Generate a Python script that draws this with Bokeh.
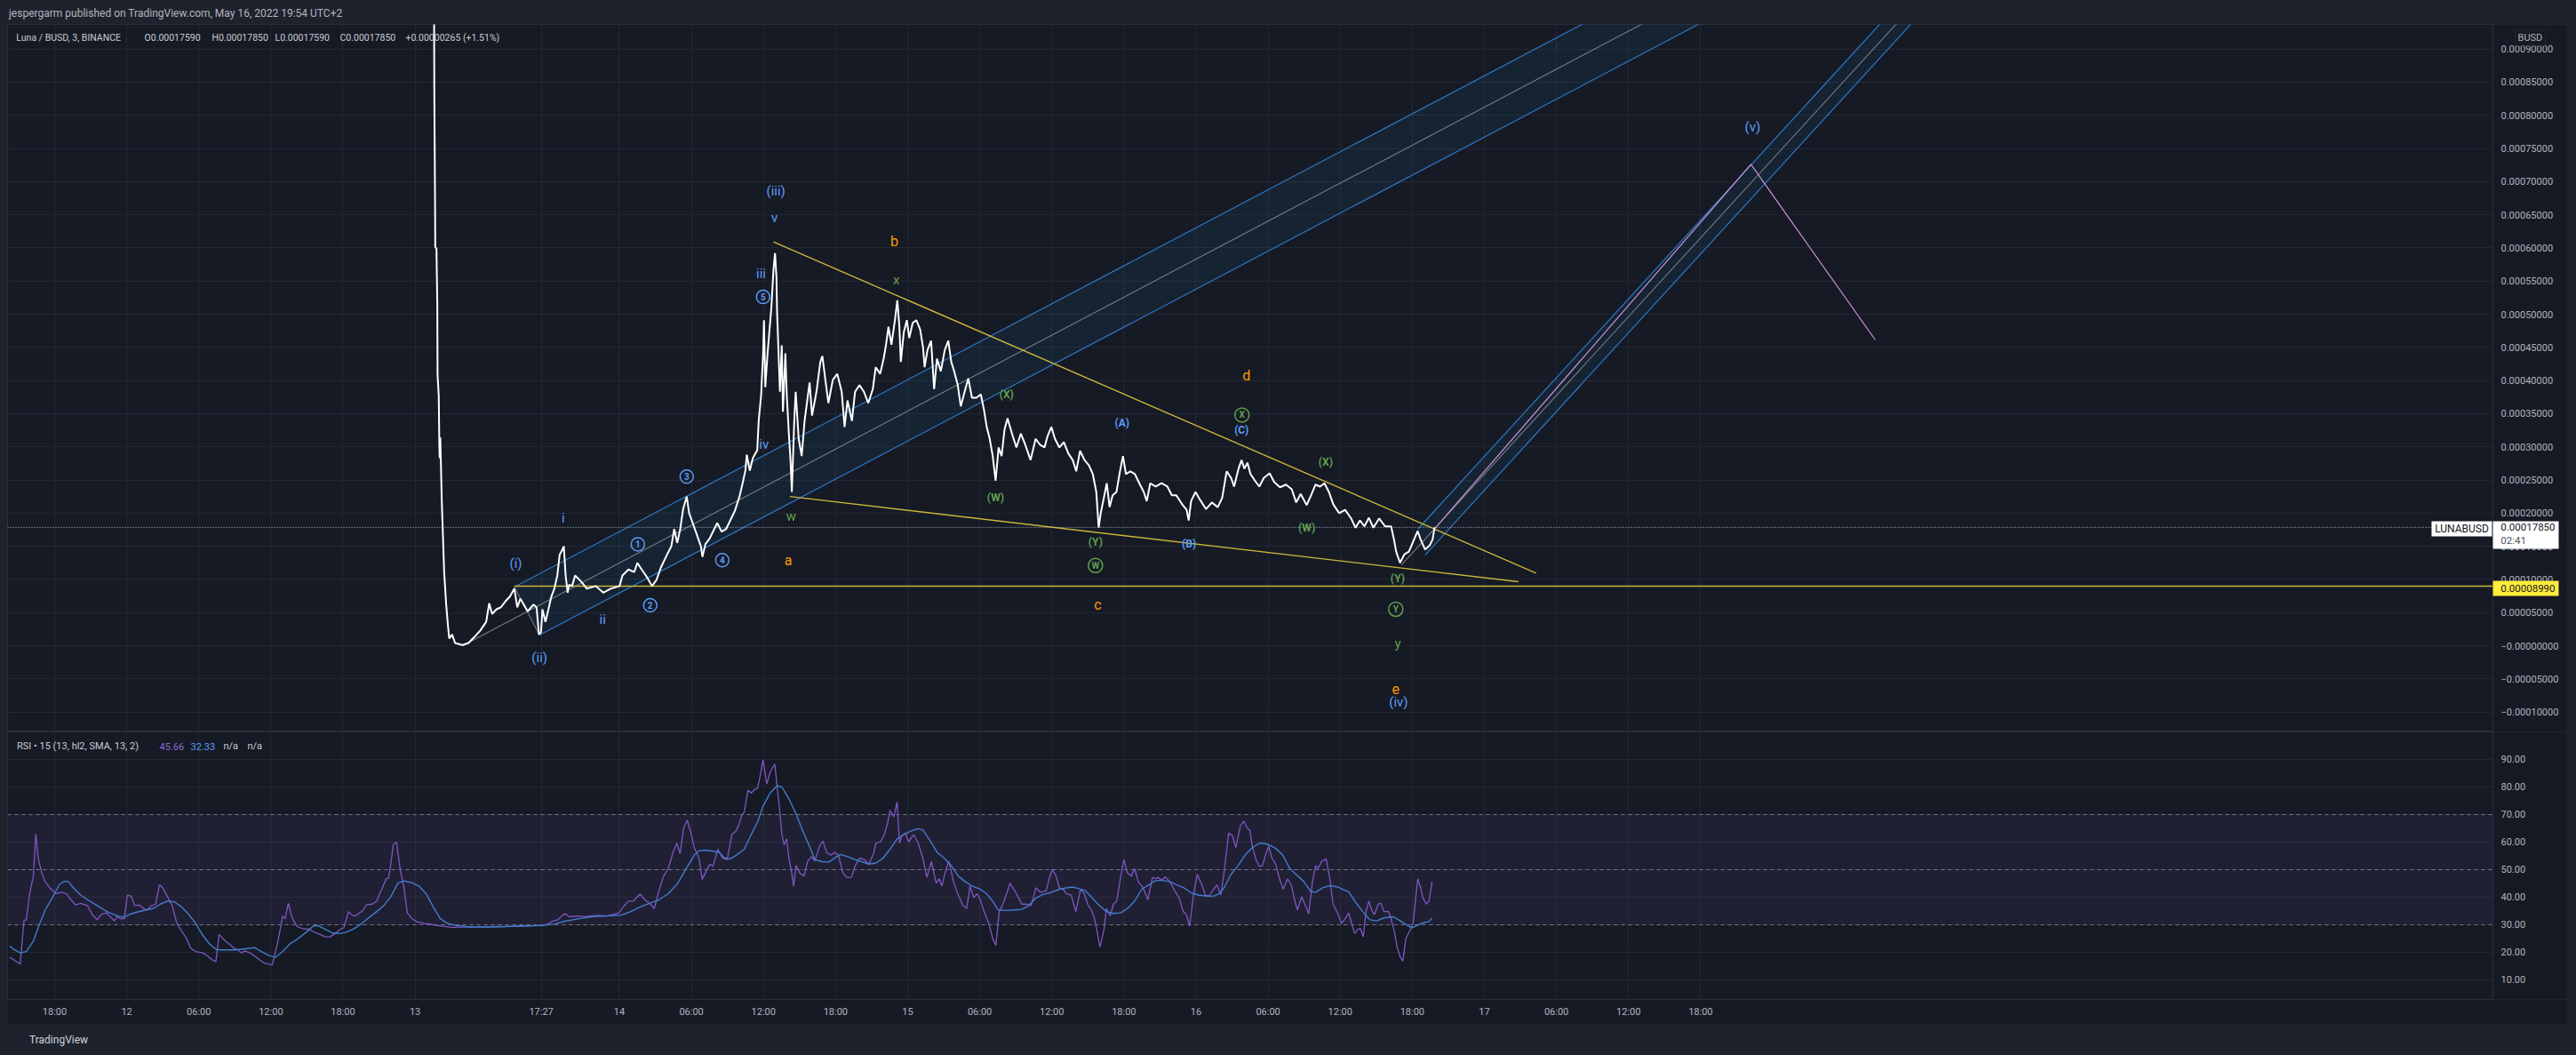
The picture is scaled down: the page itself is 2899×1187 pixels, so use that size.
from bokeh.plotting import figure
from bokeh.models import (ColumnDataSource, FixedTicker, BoxAnnotation, Label, Div,
                          Range1d, GlobalInlineStyleSheet)
from bokeh.layouts import column, row
from bokeh.core.properties import value
from bokeh.embed import file_html
from bokeh.resources import INLINE

# ---------------------------------------------------------------- data
# x unit: hours on TradingView's gap-less 3-minute bar axis (0 = May 11 18:00)
time_ticks = [0, 6, 12, 18, 24, 30, 40.5, 47, 53, 59, 65, 71, 77, 83, 89, 95, 101, 107, 113, 119, 125, 131, 137]
time_labels = ["18:00", "12", "06:00", "12:00", "18:00", "13", "17:27", "14", "06:00", "12:00", "18:00", "15",
               "06:00", "12:00", "18:00", "16", "06:00", "12:00", "18:00", "17", "06:00", "12:00", "18:00"]

price_ticks = [-10e-5, -5e-5, 0.0, 5e-5, 10e-5, 15e-5, 20e-5, 25e-5, 30e-5, 35e-5, 40e-5, 45e-5, 50e-5,
               55e-5, 60e-5, 65e-5, 70e-5, 75e-5, 80e-5, 85e-5, 90e-5]
price_tick_labels = ["\u22120.00010000", "\u22120.00005000", "\u22120.00000000", "0.00005000", "0.00010000",
                     "0.00015000", "0.00020000", "0.00025000", "0.00030000", "0.00035000", "0.00040000",
                     "0.00045000", "0.00050000", "0.00055000", "0.00060000", "0.00065000", "0.00070000",
                     "0.00075000", "0.00080000", "0.00085000", "0.00090000"]

rsi_ticks = [10, 20, 30, 40, 50, 60, 70, 80, 90]
rsi_tick_labels = ["10.00", "20.00", "30.00", "40.00", "50.00", "60.00", "70.00", "80.00", "90.00"]
rsi_levels = [70, 50, 30]

# LUNA/BUSD close (units of 1e-5 BUSD)
price_h = [31.56, 31.60, 31.66, 31.68, 31.78, 31.85, 31.87, 31.97, 32.02, 32.05,
           32.10, 32.22, 32.34, 32.42, 32.59, 32.71, 32.84, 33.08, 33.33, 33.95,
           34.44, 34.93, 35.43, 35.92, 36.17, 36.41, 36.78, 37.15, 37.52, 37.89,
           38.26, 38.51, 38.76, 39.37, 39.86, 40.11, 40.31, 40.48, 40.60, 40.85,
           41.10, 41.34, 41.59, 41.84, 42.03, 42.21, 42.38, 42.53, 42.70, 42.82,
           43.07, 43.32, 43.81, 44.30, 45.04, 45.66, 46.28, 47.02, 47.26, 47.76,
           48.24, 48.50, 48.86, 49.35, 49.72, 50.09, 50.46, 50.96, 51.33, 51.57,
           51.82, 52.07, 52.31, 52.61, 52.81, 53.05, 53.42, 53.79, 53.92, 54.16,
           54.53, 54.90, 55.15, 55.52, 55.89, 56.26, 56.63, 57.00, 57.25, 57.49,
           57.61, 57.86, 58.11, 58.48, 58.60, 58.80, 58.97, 59.04, 59.15, 59.34,
           59.54, 59.66, 59.83, 59.96, 60.08, 60.13, 60.28, 60.37, 60.52, 60.62,
           60.82, 60.94, 61.11, 61.26, 61.36, 61.56, 61.68, 61.93, 62.18, 62.42,
           62.67, 62.84, 63.04, 63.41, 63.73, 63.90, 64.15, 64.40, 64.77, 65.14,
           65.51, 65.75, 65.99, 66.36, 66.62, 66.99, 67.36, 67.72, 68.10, 68.34,
           68.71, 69.00, 69.20, 69.40, 69.65, 69.94, 70.14, 70.31, 70.43, 70.68,
           70.93, 71.13, 71.42, 71.72, 72.04, 72.28, 72.41, 72.65, 72.95, 73.20,
           73.44, 73.76, 74.09, 74.38, 74.63, 74.87, 75.17, 75.42, 75.74, 76.05,
           76.35, 76.72, 77.09, 77.34, 77.58, 77.83, 78.08, 78.32, 78.57, 78.82,
           79.06, 79.31, 79.68, 80.05, 80.42, 80.79, 81.23, 81.65, 82.02, 82.39,
           82.64, 82.96, 83.26, 83.63, 84.00, 84.37, 84.74, 85.03, 85.35, 85.72,
           86.09, 86.41, 86.70, 86.90, 87.07, 87.33, 87.57, 87.81, 88.06, 88.38,
           88.63, 88.92, 89.17, 89.54, 89.91, 90.28, 90.65, 90.90, 91.19, 91.64,
           92.13, 92.62, 92.99, 93.36, 93.86, 94.22, 94.39, 94.59, 94.96, 95.34,
           95.83, 96.32, 96.81, 97.18, 97.55, 97.92, 98.17, 98.54, 98.79, 99.03,
           99.28, 99.53, 99.90, 100.27, 100.64, 101.13, 101.50, 101.99, 102.49, 102.97,
           103.34, 103.71, 104.21, 104.58, 104.95, 105.32, 105.69, 106.06, 106.43, 106.92,
           107.41, 107.91, 108.28, 108.65, 109.02, 109.39, 109.76, 110.25, 110.74, 111.24,
           111.48, 111.66, 111.98, 112.35, 112.72, 113.03, 113.45, 113.70, 114.07, 114.44,
           114.69, 114.86]
price_e5 = [110.0, 83.9, 67.8, 60.1, 59.9, 51.6, 40.9, 37.7, 30.2, 28.3,
            31.4, 22.0, 15.5, 11.1, 6.2, 3.6, 1.1, 1.7, 0.4, 0.1,
            0.4, 1.3, 2.3, 3.6, 6.4, 4.8, 5.5, 5.8, 6.7, 7.4,
            8.6, 5.8, 7.1, 5.2, 6.2, 5.8, 1.7, 2.0, 5.5, 3.6,
            5.5, 7.4, 8.6, 10.6, 13.7, 14.3, 15.0, 10.6, 8.0, 9.2,
            9.0, 10.6, 9.7, 8.6, 9.0, 8.0, 8.6, 9.0, 10.6, 11.5,
            11.1, 12.5, 11.5, 10.2, 9.0, 9.9, 11.8, 13.7, 15.0, 17.6,
            15.5, 17.6, 20.6, 22.5, 20.0, 18.8, 16.9, 15.0, 13.4, 15.3,
            16.2, 17.6, 18.5, 17.2, 17.6, 19.0, 20.4, 22.5, 24.4, 26.4,
            28.8, 26.4, 28.3, 29.5, 33.9, 37.7, 44.1, 49.1, 39.0, 44.1,
            48.5, 51.1, 56.7, 59.2, 55.5, 50.4, 42.8, 38.3, 45.3, 35.3,
            44.1, 37.7, 32.0, 27.6, 23.2, 33.9, 38.3, 31.2, 28.6, 33.9,
            37.4, 39.7, 34.7, 38.3, 42.8, 43.7, 40.1, 36.6, 40.1, 41.0,
            38.3, 33.0, 37.0, 33.9, 38.3, 39.3, 38.3, 36.6, 38.7, 42.0,
            41.0, 43.3, 45.4, 48.1, 45.4, 49.1, 52.1, 48.1, 42.8, 47.3,
            49.1, 46.4, 48.7, 49.1, 47.7, 45.0, 42.0, 44.6, 46.0, 38.7,
            43.3, 41.4, 44.6, 46.0, 42.8, 41.4, 39.3, 36.1, 38.3, 40.3,
            37.4, 37.4, 37.9, 35.7, 33.0, 31.2, 28.6, 24.9, 29.9, 28.6,
            32.6, 34.3, 32.0, 29.9, 32.0, 30.3, 28.0, 31.2, 30.3, 29.9,
            31.6, 33.0, 31.2, 29.9, 30.7, 29.0, 28.0, 26.3, 29.4, 28.0,
            27.2, 25.9, 23.2, 17.8, 20.0, 22.3, 24.5, 20.9, 22.7, 23.2,
            25.9, 28.6, 25.9, 26.3, 25.9, 24.5, 23.2, 21.8, 24.5, 24.0,
            24.5, 24.0, 22.7, 22.7, 21.3, 20.5, 18.9, 21.8, 23.2, 22.0,
            20.6, 21.6, 20.9, 22.3, 26.3, 25.3, 24.0, 26.7, 28.0, 26.7,
            27.6, 25.9, 24.9, 24.0, 25.3, 26.0, 24.7, 23.9, 24.3, 23.6,
            21.6, 22.9, 21.2, 22.7, 24.3, 24.0, 24.5, 23.2, 21.3, 20.0,
            20.5, 19.2, 17.8, 18.9, 18.0, 19.3, 17.8, 19.2, 18.0, 18.0,
            16.0, 14.2, 12.5, 13.8, 14.2, 15.5, 17.3, 16.0, 14.5, 15.1,
            16.0, 17.85]

# RSI(13, hl2) and its SMA(13)
rsi_h = [-3.73, -3.34, -2.87, -2.55, -2.36, -2.08, -1.77, -1.57, -1.38, -1.07,
         -0.79, -0.40, 0.11, 0.58, 0.97, 1.36, 1.75, 2.15, 2.73, 3.12,
         3.52, 3.91, 4.30, 4.69, 4.96, 5.20, 5.47, 5.79, 6.06, 6.37,
         6.65, 7.04, 7.43, 7.70, 8.02, 8.41, 8.72, 9.00, 9.39, 9.78,
         10.17, 10.56, 10.95, 11.35, 11.74, 12.32, 12.72, 13.11, 13.42, 13.69,
         14.20, 14.60, 14.95, 15.26, 15.53, 15.85, 16.24, 16.63, 17.02, 17.41,
         17.81, 18.12, 18.59, 18.98, 19.18, 19.45, 19.76, 20.15, 20.55, 21.13,
         21.72, 22.11, 22.50, 22.90, 23.36, 23.76, 24.07, 24.46, 24.77, 25.05,
         25.36, 25.63, 25.95, 26.42, 26.81, 27.01, 27.28, 27.59, 27.79, 27.98,
         28.18, 28.45, 28.77, 29.08, 29.35, 29.75, 30.14, 30.73, 31.51, 32.29,
         33.07, 34.64, 36.60, 38.56, 40.12, 40.90, 41.49, 41.88, 42.28, 42.47,
         42.86, 43.45, 44.23, 45.21, 45.99, 46.58, 46.97, 47.25, 47.76, 48.15,
         48.73, 49.13, 49.52, 49.91, 50.30, 50.69, 51.08, 51.47, 51.79, 52.06,
         52.34, 52.65, 52.96, 53.24, 53.63, 53.90, 54.22, 54.53, 54.80, 55.20,
         55.59, 55.98, 56.37, 56.68, 56.93, 57.20, 57.40, 57.71, 57.98, 58.26,
         58.49, 58.69, 58.96, 59.28, 59.55, 59.75, 59.94, 60.14, 60.33, 60.53,
         60.72, 60.92, 61.12, 61.31, 61.51, 61.70, 62.02, 62.37, 62.68, 63.00,
         63.27, 63.66, 63.94, 64.25, 64.64, 64.91, 65.23, 65.62, 65.93, 66.32,
         66.60, 66.99, 67.38, 67.77, 68.16, 68.36, 68.75, 69.06, 69.34, 69.53,
         69.85, 70.12, 70.32, 70.51, 70.79, 71.10, 71.49, 71.88, 72.27, 72.59,
         72.98, 73.37, 73.64, 73.84, 74.11, 74.43, 74.82, 75.21, 75.60, 75.91,
         76.19, 76.50, 76.78, 77.05, 77.36, 77.75, 78.07, 78.34, 78.62, 78.93,
         79.24, 79.52, 79.91, 80.18, 80.50, 80.89, 81.28, 81.67, 82.06, 82.53,
         82.84, 83.04, 83.35, 83.63, 83.94, 84.21, 84.61, 85.00, 85.39, 85.70,
         85.98, 86.29, 86.56, 86.76, 87.00, 87.35, 87.54, 87.86, 88.13, 88.40,
         88.72, 88.99, 89.30, 89.62, 89.89, 90.20, 90.60, 90.99, 91.38, 91.65,
         91.85, 92.16, 92.44, 92.83, 93.22, 93.61, 93.93, 94.20, 94.47, 94.79,
         95.10, 95.49, 95.77, 96.08, 96.47, 96.74, 97.06, 97.33, 97.72, 98.04,
         98.31, 98.70, 98.98, 99.29, 99.48, 99.68, 99.99, 100.27, 100.54, 100.78,
         101.05, 101.32, 101.64, 101.95, 102.26, 102.62, 102.93, 103.20, 103.44, 103.79,
         104.10, 104.38, 104.69, 104.96, 105.16, 105.47, 105.83, 106.14, 106.41, 106.73,
         107.12, 107.43, 107.71, 107.98, 108.21, 108.49, 108.68, 108.92, 109.15, 109.39,
         109.66, 109.86, 110.17, 110.41, 110.64, 111.03, 111.23, 111.50, 111.74, 112.01,
         112.21, 112.48, 112.80, 113.07, 113.27, 113.46, 113.70, 113.89, 114.17, 114.40,
         114.64]
rsi = [18.2, 17.1, 15.7, 31.6, 31.8, 41.3, 47.7, 63.0, 54.2, 48.8,
       45.6, 43.4, 41.3, 41.8, 41.3, 39.1, 37.2, 37.8, 37.0, 33.8,
       31.8, 33.8, 34.3, 32.7, 31.4, 33.0, 32.2, 32.2, 40.8, 40.4,
       37.0, 37.2, 35.9, 35.4, 36.8, 37.5, 44.5, 43.4, 40.2, 37.0,
       30.5, 27.8, 25.2, 21.4, 20.3, 19.8, 18.7, 17.3, 16.6, 26.5,
       24.1, 22.8, 21.4, 20.9, 19.8, 20.5, 19.8, 18.7, 17.4, 16.2,
       15.7, 15.5, 24.1, 33.2, 32.2, 37.8, 32.7, 29.5, 28.7, 28.4,
       27.1, 26.5, 25.7, 25.6, 26.8, 28.4, 28.9, 34.8, 33.5, 33.2,
       34.3, 35.1, 37.2, 37.5, 38.6, 40.8, 43.4, 46.7, 46.9, 52.0,
       59.0, 60.0, 49.9, 43.4, 34.3, 32.2, 31.1, 30.5, 30.0, 29.5,
       29.1, 29.2, 29.4, 29.5, 29.7, 30.0, 31.4, 31.8, 33.5, 34.0,
       32.9, 33.2, 33.0, 33.4, 33.2, 33.8, 34.3, 36.1, 38.6, 38.6,
       41.1, 39.1, 37.8, 35.9, 42.4, 47.7, 50.4, 56.3, 59.6, 55.8,
       64.9, 68.0, 63.3, 58.0, 54.2, 46.5, 49.4, 52.0, 51.2, 57.4,
       54.2, 53.7, 62.8, 63.9, 66.0, 69.8, 70.9, 78.9, 77.8, 79.1,
       79.5, 83.2, 89.9, 81.1, 85.4, 87.0, 88.3, 80.0, 72.5, 62.8,
       59.0, 61.2, 54.2, 49.9, 44.0, 51.5, 48.8, 47.7, 53.1, 54.7,
       53.1, 58.5, 60.4, 56.3, 55.3, 56.3, 55.3, 48.8, 47.2, 47.2,
       51.0, 54.2, 53.7, 52.0, 55.8, 59.6, 60.1, 62.8, 67.1, 71.6,
       69.2, 74.6, 59.6, 62.3, 63.3, 60.1, 62.8, 59.6, 54.2, 47.2,
       52.9, 45.1, 46.7, 44.0, 48.8, 53.1, 45.6, 40.8, 37.0, 35.9,
       44.0, 39.9, 41.3, 39.1, 34.8, 30.5, 25.2, 22.5, 34.8, 37.5,
       41.3, 45.1, 42.4, 40.2, 37.5, 37.5, 37.0, 43.4, 41.8, 42.4,
       47.7, 50.1, 47.7, 43.4, 42.9, 41.3, 40.8, 34.8, 42.9, 41.3,
       37.5, 35.4, 32.2, 27.8, 21.9, 28.4, 35.9, 33.2, 37.5, 38.6,
       47.2, 53.7, 48.8, 47.7, 50.4, 45.6, 43.4, 39.1, 47.2, 46.7,
       47.2, 46.1, 47.4, 45.6, 42.4, 39.7, 34.8, 33.8, 29.5, 40.8,
       48.3, 44.5, 40.8, 40.4, 42.9, 44.5, 40.8, 48.8, 63.3, 62.3,
       58.0, 66.0, 67.6, 64.9, 64.4, 58.5, 53.7, 51.2, 51.5, 55.3,
       58.5, 54.2, 52.0, 46.7, 42.9, 46.7, 44.5, 39.1, 35.4, 40.2,
       37.0, 34.0, 45.6, 51.5, 50.4, 53.1, 53.9, 46.7, 37.5, 34.8,
       30.5, 32.2, 34.3, 30.0, 26.8, 28.4, 28.6, 25.7, 34.8, 38.6,
       34.8, 33.8, 37.5, 37.8, 34.8, 34.8, 32.2, 27.8, 21.9, 18.2,
       16.8, 25.2, 27.8, 30.5, 39.1, 46.7, 43.4, 39.7, 37.5, 38.6,
       45.66]

rsi_ma_h = [-3.73, -3.34, -2.87, -2.36, -1.77, -1.38, -0.79, -0.20, 0.38, 0.78,
            1.17, 1.56, 2.15, 2.93, 3.71, 4.49, 5.28, 5.75, 6.26, 6.84,
            7.63, 8.21, 8.80, 9.39, 9.98, 10.56, 11.15, 11.74, 12.32, 12.91,
            13.50, 14.28, 15.07, 15.85, 16.63, 17.22, 17.81, 18.39, 18.98, 19.57,
            20.15, 20.94, 21.52, 21.92, 22.50, 23.09, 23.68, 24.27, 24.85, 25.44,
            26.03, 26.81, 27.40, 27.98, 28.57, 29.08, 29.75, 30.33, 30.92, 31.51,
            32.10, 32.68, 33.47, 34.64, 36.60, 38.56, 40.51, 41.49, 42.47, 43.65,
            44.82, 46.00, 47.17, 47.95, 48.73, 49.52, 50.30, 51.08, 51.87, 52.65,
            53.24, 53.63, 54.22, 54.80, 55.31, 55.78, 56.17, 56.56, 57.40, 57.98,
            58.49, 58.96, 59.55, 60.14, 60.53, 61.12, 61.70, 62.29, 62.88, 63.27,
            63.86, 64.44, 64.91, 65.42, 66.01, 66.60, 67.18, 67.77, 68.36, 68.95,
            69.53, 70.12, 70.71, 71.30, 71.88, 72.27, 72.86, 73.45, 74.04, 74.62,
            75.21, 75.80, 76.39, 76.97, 77.56, 78.07, 78.54, 79.12, 79.91, 80.50,
            81.08, 81.67, 82.26, 82.84, 83.63, 84.21, 84.72, 85.19, 85.78, 86.37,
            86.96, 87.54, 88.13, 88.72, 89.30, 89.89, 90.48, 91.07, 91.65, 92.24,
            92.83, 93.41, 94.00, 94.59, 95.18, 95.96, 96.55, 96.94, 97.33, 97.92,
            98.50, 99.09, 99.68, 100.27, 100.66, 101.24, 101.64, 102.22, 102.81, 103.40,
            103.99, 104.57, 104.97, 105.55, 106.14, 106.73, 107.31, 107.71, 108.29, 108.88,
            109.47, 110.05, 110.64, 111.43, 112.01, 112.60, 112.99, 113.38, 113.97, 114.36,
            114.64]
rsi_ma = [22.2, 20.9, 19.8, 20.3, 24.1, 28.9, 35.4, 39.7, 44.5, 45.8,
          45.6, 43.4, 40.8, 38.6, 36.5, 34.5, 33.2, 32.7, 33.8, 34.6,
          35.4, 35.9, 37.5, 38.6, 38.3, 36.5, 33.8, 30.5, 26.2, 23.0,
          20.9, 20.9, 20.9, 21.3, 21.7, 20.3, 18.9, 18.2, 20.3, 23.0,
          24.6, 27.3, 29.5, 29.7, 28.4, 27.1, 26.8, 27.3, 28.4, 30.0,
          32.2, 34.8, 37.0, 40.2, 45.1, 45.9, 45.3, 44.0, 41.3, 36.5,
          32.2, 30.5, 29.7, 29.2, 29.2, 29.5, 29.7, 30.2, 31.3, 32.2,
          33.0, 33.2, 33.5, 34.8, 36.5, 37.8, 39.1, 41.3, 45.1, 51.0,
          55.3, 56.9, 57.1, 56.7, 56.3, 54.2, 53.9, 54.7, 57.4, 62.8,
          67.1, 73.0, 77.8, 80.5, 80.0, 75.7, 70.3, 63.9, 58.0, 53.7,
          52.9, 52.8, 54.2, 55.5, 54.7, 53.7, 52.9, 52.0, 52.4, 54.2,
          57.4, 61.2, 62.8, 64.1, 64.9, 64.4, 60.6, 56.3, 54.2, 51.5,
          47.7, 45.6, 44.0, 43.1, 41.3, 38.6, 35.4, 35.2, 35.4, 35.6,
          37.0, 39.7, 41.0, 41.6, 42.9, 43.4, 43.7, 43.2, 42.4, 39.7,
          37.0, 34.8, 34.1, 34.3, 35.9, 38.6, 42.9, 44.5, 46.1, 46.1,
          45.6, 44.5, 43.4, 41.6, 40.8, 40.4, 40.5, 41.3, 43.4, 48.3,
          51.5, 55.3, 58.0, 59.6, 59.6, 58.7, 57.7, 55.3, 50.4, 48.0,
          45.6, 42.0, 41.8, 43.4, 44.2, 43.8, 42.7, 42.0, 38.1, 34.8,
          31.8, 31.4, 32.5, 32.9, 31.4, 29.7, 28.9, 29.7, 30.8, 31.1,
          32.33]

# drawings (h, price in 1e-5)
chan1_upper_h, chan1_upper_e5 = [38.26, 137.90], [8.85, 104.0]
chan1_mid_h, chan1_mid_e5 = [33.95, 142.85], [0.0, 104.0]
chan1_lower_h, chan1_lower_e5 = [40.36, 147.58], [1.6, 104.0]
chan2_upper_h, chan2_upper_e5 = [113.45, 157.10], [17.56, 104.0]
chan2_mid_h, chan2_mid_e5 = [112.10, 158.45], [12.2, 104.0]
chan2_lower_h, chan2_lower_e5 = [114.07, 159.68], [13.67, 104.0]
proj_h, proj_e5 = [114.93, 141.19, 151.53], [17.79, 72.6, 46.15]
tri_upper_h, tri_upper_e5 = [59.83, 123.31], [60.9, 10.95]
tri_lower_h, tri_lower_e5 = [61.19, 121.84], [22.5, 9.65]
support_h, support_e5 = [38.26, 203.0], [8.99, 8.99]
last_price_e5 = 17.85
support_price_e5 = 8.99

# wave labels
roman_text = ["(iii)", "v", "iii", "iv", "i", "(i)", "ii", "(ii)", "(iv)", "(v)"]
roman_h = [60.03, 59.91, 58.80, 59.04, 42.33, 38.39, 45.61, 40.36, 111.86, 141.33]
roman_e5 = [68.5, 64.6, 56.1, 30.3, 19.3, 12.4, 4.0, -1.8, -8.5, 78.2]
letter_text = ["a", "b", "c", "d", "e"]
letter_h = [61.07, 69.89, 86.83, 99.20, 111.63]
letter_e5 = [12.9, 61.0, 6.2, 40.7, -6.5]
minor_text = ["w", "x", "y"]
minor_h = [61.31, 70.06, 111.80]
minor_e5 = [19.5, 55.1, 0.36]
wxy_text = ["(X)", "(W)", "(Y)", "(W)", "(X)", "(Y)"]
wxy_h = [79.23, 78.32, 86.63, 104.21, 105.79, 111.78]
wxy_e5 = [37.9, 22.3, 15.6, 17.8, 27.7, 10.1]
abc_text = ["(A)", "(B)", "(C)"]
abc_h = [88.85, 94.42, 98.79]
abc_e5 = [33.6, 15.4, 32.5]
circ_num_text = ["1", "2", "3", "4", "5"]
circ_num_h = [48.54, 49.57, 52.61, 55.57, 58.97]
circ_num_e5 = [15.3, 6.1, 25.5, 12.9, 52.6]
circ_let_text = ["W", "X", "Y"]
circ_let_h = [86.63, 98.83, 111.63]
circ_let_e5 = [12.1, 34.8, 5.5]

# ---------------------------------------------------------------- style
FONT = "Roboto"
BG = "#161a25"
OUTER = "#1e222d"
GRID = "#232733"
BORDER = "#2a2e39"
AXT = "#b2b5be"
BLUE = "#5b9cf6"
ORANGE = "#ff9800"
GREEN = "#5fa04e"
YELLOW = "#c9b53a"
CH_LINE = "#2f77c0"
MID = "#787b86"
PINK = "#ce93d8"

X0, X_AXIS, X1 = -3.92, 202.95, 209.16     # chart left, price-scale divider, panel right
BADGE_L, BADGE_R, BADGE_TXT = 202.95, 208.42, 203.60


def e5(vals):
    return [v * 1e-5 for v in vals]


def style_axis(ax):
    ax.axis_line_color = BORDER
    ax.major_tick_line_color = None
    ax.minor_tick_line_color = None
    ax.major_tick_out = 0
    ax.major_tick_in = 0
    ax.major_label_text_color = AXT
    ax.major_label_text_font = FONT
    ax.major_label_text_font_size = "11px"


def add_text(fig, texts, hs, ys, color, size, bold=False, align="center"):
    src = ColumnDataSource(dict(x=hs, y=ys, t=texts))
    fig.text(x="x", y="y", text="t", source=src, text_color=color, text_font=value(FONT),
             text_font_size=value(size), text_font_style="bold" if bold else "normal",
             text_align=align, text_baseline="middle")


xr = Range1d(X0, X1)

# ---------------------------------------------------------------- price pane
p = figure(frame_width=2881, frame_height=796, x_range=xr, y_range=Range1d(-13.0e-5, 93.7e-5),
           x_axis_location=None, y_axis_location="right", output_backend="svg", toolbar_location=None,
           min_border_left=0, min_border_right=0, min_border_top=0, min_border_bottom=0,
           background_fill_color=BG, border_fill_color=BG, outline_line_color=BORDER)

yt = FixedTicker(ticks=price_ticks)
yax = p.yaxis[0]
yax.ticker = yt
yax.fixed_location = X_AXIS
yax.major_label_overrides = dict(zip(price_ticks, price_tick_labels))
style_axis(yax)
yax.major_label_standoff = 9
p.ygrid.ticker = yt
p.ygrid.grid_line_color = GRID
xt1 = FixedTicker(ticks=time_ticks)
for g in p.xgrid:
    g.ticker = xt1
    if g.axis is not None:
        g.axis.ticker = xt1
p.xgrid.grid_line_color = GRID

# channels
p.patch(chan1_upper_h + chan1_lower_h[::-1], e5(chan1_upper_e5 + chan1_lower_e5[::-1]),
        fill_color="#2196f3", fill_alpha=0.07, line_alpha=0)
p.patch(chan2_upper_h + chan2_lower_h[::-1], e5(chan2_upper_e5 + chan2_lower_e5[::-1]),
        fill_color="#2196f3", fill_alpha=0.07, line_alpha=0)
for hh, vv in [(chan1_upper_h, chan1_upper_e5), (chan1_lower_h, chan1_lower_e5),
               (chan2_upper_h, chan2_upper_e5), (chan2_lower_h, chan2_lower_e5)]:
    p.line(hh, e5(vv), line_color=CH_LINE, line_width=1.2)
for hh, vv in [(chan1_mid_h, chan1_mid_e5), (chan2_mid_h, chan2_mid_e5)]:
    p.line(hh, e5(vv), line_color=MID, line_width=1.1)
p.line([chan1_upper_h[0], chan1_lower_h[0]], e5([chan1_upper_e5[0], chan1_lower_e5[0]]),
       line_color=MID, line_width=1.1)
p.line(proj_h, e5(proj_e5), line_color=PINK, line_width=1.2)

# triangle, support and last-price line
p.line(tri_upper_h, e5(tri_upper_e5), line_color=YELLOW, line_width=1.4)
p.line(tri_lower_h, e5(tri_lower_e5), line_color=YELLOW, line_width=1.4)
p.line(support_h, e5(support_e5), line_color=YELLOW, line_width=1.4)
p.line([X0, 197.84], e5([last_price_e5, last_price_e5]), line_color="#c9ccd4",
       line_dash="1 2", line_width=1)

# price
p.line(price_h, e5(price_e5), line_color="#ffffff", line_width=2)

add_text(p, roman_text, roman_h, e5(roman_e5), BLUE, "15px")
add_text(p, letter_text, letter_h, e5(letter_e5), ORANGE, "16px")
add_text(p, minor_text, minor_h, e5(minor_e5), GREEN, "15px")
add_text(p, wxy_text, wxy_h, e5(wxy_e5), GREEN, "12px", bold=True)
add_text(p, abc_text, abc_h, e5(abc_e5), BLUE, "12px", bold=True)
p.scatter(circ_num_h, e5(circ_num_e5), marker="circle", size=15, fill_color=None,
          line_color=BLUE, line_width=1.5)
add_text(p, circ_num_text, circ_num_h, e5(circ_num_e5), BLUE, "10px", bold=True)
p.scatter(circ_let_h, e5(circ_let_e5), marker="circle", size=16, fill_color=None,
          line_color=GREEN, line_width=1.5)
add_text(p, circ_let_text, circ_let_h, e5(circ_let_e5), GREEN, "10px", bold=True)

# pane legend
hdr_y = 91.69e-5
add_text(p, ["Luna / BUSD, 3, BINANCE", "O0.00017590", "H0.00017850", "L0.00017590", "C0.00017850",
             "+0.00000265 (+1.51%)"],
         [-3.19, 7.47, 13.09, 18.34, 23.74, 29.21], [hdr_y] * 6, "#c8cbd3", "10.5px", align="left")

# price-scale column background (hides grid lines there)
p.quad(left=[X_AXIS], right=[X1 + 1], bottom=[-20e-5], top=[100e-5], fill_color=BG, line_alpha=0)

# badges on the price scale
p.add_layout(BoxAnnotation(left=204.79, right=207.31, bottom=90.48e-5, top=92.90e-5,
                           fill_color=BG, fill_alpha=1, line_color="#434651", line_width=1))
p.add_layout(Label(x=206.05, y=91.69e-5, text="BUSD", text_font=FONT, text_font_size="11px",
                   text_color=AXT, text_align="center", text_baseline="middle"))
p.add_layout(BoxAnnotation(left=197.84, right=202.87, bottom=16.49e-5, top=18.77e-5,
                           fill_color="#ffffff", fill_alpha=1, line_alpha=0))
p.add_layout(Label(x=200.36, y=17.69e-5, text="LUNABUSD", text_font=FONT, text_font_size="12px",
                   text_color="#131722", text_align="center", text_baseline="middle"))
p.add_layout(BoxAnnotation(left=BADGE_L, right=BADGE_R, bottom=14.61e-5, top=18.77e-5,
                           fill_color="#ffffff", fill_alpha=1, line_alpha=0))
p.add_layout(Label(x=BADGE_TXT, y=17.85e-5, text="0.00017850", text_font=FONT, text_font_size="11.5px",
                   text_color="#131722", text_align="left", text_baseline="middle"))
p.add_layout(Label(x=BADGE_TXT, y=15.82e-5, text="02:41", text_font=FONT, text_font_size="11.5px",
                   text_color="#50535e", text_align="left", text_baseline="middle"))
p.add_layout(BoxAnnotation(left=BADGE_L, right=BADGE_R, bottom=7.51e-5, top=9.79e-5,
                           fill_color="#ffeb3b", fill_alpha=1, line_alpha=0))
p.add_layout(Label(x=BADGE_TXT, y=8.71e-5, text="0.00008990", text_font=FONT, text_font_size="11.5px",
                   text_color="#131722", text_align="left", text_baseline="middle"))

# ---------------------------------------------------------------- RSI pane
p2 = figure(frame_width=2881, frame_height=301, x_range=xr, y_range=Range1d(2.9, 100),
            y_axis_location="right", x_axis_location="below", output_backend="svg",
            toolbar_location=None, min_border_left=0, min_border_right=0, min_border_top=0,
            min_border_bottom=28, background_fill_color=BG, border_fill_color=BG,
            outline_line_color=BORDER)
xt2 = FixedTicker(ticks=time_ticks)
xax = p2.xaxis[0]
xax.ticker = xt2
xax.major_label_overrides = dict(zip(time_ticks, time_labels))
ryt = FixedTicker(ticks=rsi_ticks)
ryax = p2.yaxis[0]
ryax.ticker = ryt
ryax.fixed_location = X_AXIS
ryax.major_label_overrides = dict(zip(rsi_ticks, rsi_tick_labels))
style_axis(xax)
style_axis(ryax)
xax.axis_line_color = None
xax.major_label_standoff = 7
ryax.major_label_standoff = 9
p2.xgrid.ticker = xt2
p2.ygrid.ticker = ryt
p2.xgrid.grid_line_color = GRID
p2.ygrid.grid_line_color = GRID

p2.add_layout(BoxAnnotation(bottom=30, top=70, right=X_AXIS, fill_color="#7e57c2", fill_alpha=0.1,
                            line_alpha=0))
for lv in rsi_levels:
    p2.line([X0, X_AXIS], [lv, lv], line_color=MID, line_dash="4 4", line_width=1)
p2.line(rsi_h, rsi, line_color="#7e57c2", line_width=1.3)
p2.line(rsi_ma_h, rsi_ma, line_color="#3f7fcc", line_width=1.4)
p2.quad(left=[X_AXIS], right=[X1 + 1], bottom=[0], top=[101], fill_color=BG, line_alpha=0)

add_text(p2, ["RSI \u2022 15 (13, hl2, SMA, 13, 2)"], [-3.14], [94.8], "#c8cbd3", "11px", align="left")
add_text(p2, ["45.66"], [8.73], [94.8], "#8e6ad6", "11px", align="left")
add_text(p2, ["32.33"], [11.32], [94.8], BLUE, "11px", align="left")
add_text(p2, ["n/a", "n/a"], [14.05, 16.05], [94.8, 94.8], "#c8cbd3", "11px", align="left")

# ---------------------------------------------------------------- page
header = Div(text="jespergarm published on TradingView.com, May 16, 2022 19:54 UTC+2",
             width=2899, height=27, margin=0,
             styles={"color": AXT, "font-family": FONT, "font-size": "12px", "line-height": "30px",
                     "padding-left": "10px", "background-color": OUTER, "white-space": "nowrap",
                     "overflow": "hidden"})
footer = Div(text="TradingView", width=2899, height=35, margin=0,
             styles={"color": "#d1d4dc", "font-family": FONT, "font-size": "12px", "line-height": "36px",
                     "padding-left": "33px", "background-color": OUTER, "white-space": "nowrap",
                     "overflow": "hidden"})
left_strip = Div(text="", width=8, height=1125, margin=0, styles={"background-color": OUTER})
right_strip = Div(text="", width=10, height=1125, margin=0, styles={"background-color": OUTER})

layout = column(header, row(left_strip, column(p, p2, spacing=0), right_strip, spacing=0), footer, spacing=0)
layout.stylesheets = [GlobalInlineStyleSheet(css="html, body { background-color: #1e222d; }")]

open("out.html", "w").write(file_html(layout, INLINE, "LUNA / BUSD"))
